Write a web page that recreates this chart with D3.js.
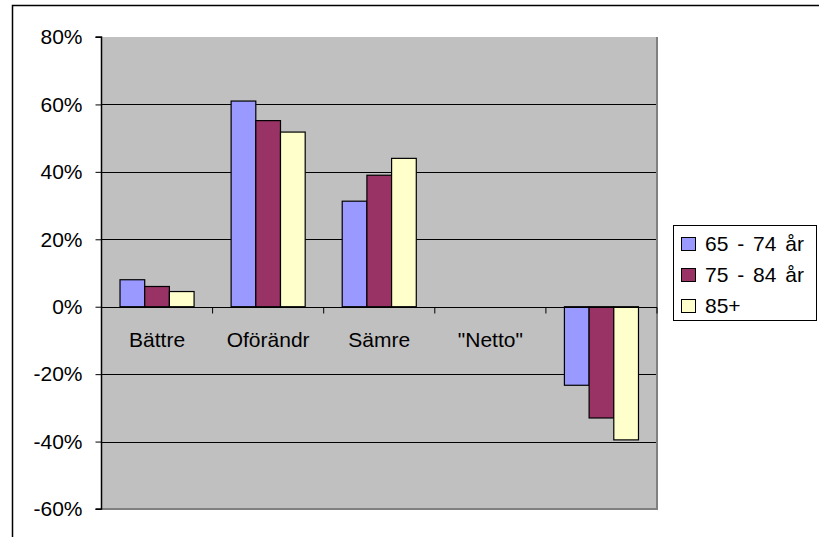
<!DOCTYPE html>
<html>
<head>
<meta charset="utf-8">
<script src="https://cdn.jsdelivr.net/npm/d3@7/dist/d3.min.js"></script>
<style>
  html, body { margin: 0; padding: 0; background: #fff; }
  svg { display: block; }
  text { font-family: "Liberation Sans", Arial, sans-serif; fill: #000; }
</style>
</head>
<body>
<svg id="chart" width="819" height="537"></svg>
<script>
// Categories along the x axis (the last group holds the net values)
const categories = ["Bättre", "Oförändr", "Sämre", "\"Netto\"", ""];
const seriesNames = ["65 - 74 år", "75 - 84 år", "85+"];
const seriesColors = ["#9999FF", "#993366", "#FFFFCC"];

// Shares per age group, in percent (null = no bar)
const age65to74 = [8, 61, 31.3, null, -23.3];
const age75to84 = [6, 55.2, 39, null, -33];
const age85plus = [4.5, 51.8, 44, null, -39.5];

const yTicks = [-60, -40, -20, 0, 20, 40, 60, 80];

const seriesValues = [age65to74, age75to84, age85plus];

const svg = d3.select("#chart");

// Outer chart frame
svg.append("rect")
  .attr("x", 12.5).attr("y", 5.5)
  .attr("width", 830).attr("height", 560)
  .attr("fill", "#fff").attr("stroke", "#000").attr("stroke-width", 1.5);

const plot = { left: 101.5, right: 657, top: 37, bottom: 509 };

const y = d3.scaleLinear().domain([-60, 80]).range([plot.bottom, plot.top]);
const x0 = d3.scaleBand().domain(d3.range(categories.length))
  .range([plot.left, plot.right]).paddingInner(0).paddingOuter(0);
const cw = x0.bandwidth();
const barW = cw / 4.5; // gap width 150%
const x1 = d3.scaleBand().domain(d3.range(seriesNames.length))
  .range([0.75 * barW, cw - 0.75 * barW]).padding(0);

// Plot area background
svg.append("rect")
  .attr("x", plot.left).attr("y", plot.top)
  .attr("width", plot.right - plot.left).attr("height", plot.bottom - plot.top)
  .attr("fill", "#C0C0C0");

// Gridlines
svg.append("g").selectAll("line")
  .data(yTicks.filter(t => t > -60 && t < 80))
  .join("line")
  .attr("x1", plot.left).attr("x2", plot.right)
  .attr("y1", d => Math.round(y(d)) + 0.5).attr("y2", d => Math.round(y(d)) + 0.5)
  .attr("stroke", "#000").attr("stroke-width", 1);

// Plot area border (right and bottom)
svg.append("path")
  .attr("d", `M${plot.right},${plot.top}V${plot.bottom}H${plot.left}`)
  .attr("fill", "none").attr("stroke", "#808080").attr("stroke-width", 2);

// Bars
const groups = svg.append("g").selectAll("g")
  .data(seriesValues)
  .join("g")
  .attr("fill", (d, i) => seriesColors[i]);

groups.each(function(vals, si) {
  d3.select(this).selectAll("rect")
    .data(vals.map((v, ci) => ({ v, ci })).filter(d => d.v !== null))
    .join("rect")
    .attr("x", d => x0(d.ci) + x1(si))
    .attr("width", x1.bandwidth())
    .attr("y", d => y(Math.max(0, d.v)))
    .attr("height", d => Math.abs(y(d.v) - y(0)))
    .attr("stroke", "#000").attr("stroke-width", 1.2);
});

// Y axis
const yAxis = d3.axisLeft(y).tickValues(yTicks)
  .tickFormat(d => d + "%").tickSize(6).tickPadding(13);
const gy = svg.append("g")
  .attr("transform", `translate(${plot.left},0)`)
  .call(yAxis);
gy.select(".domain").attr("stroke", "#000").attr("stroke-width", 1.5)
  .attr("d", `M-6,${plot.top}H0V${plot.bottom}H-6`);
gy.selectAll(".tick line").attr("stroke", "#000");
gy.selectAll(".tick text")
  .style("font-size", "21px")
  .style("font-family", "'Liberation Sans', Arial, sans-serif")
  .attr("fill", "#000");

// Category axis along zero line
const zeroY = Math.round(y(0)) + 0.5;
svg.append("line")
  .attr("x1", plot.left).attr("x2", plot.right)
  .attr("y1", zeroY).attr("y2", zeroY)
  .attr("stroke", "#000").attr("stroke-width", 1.2);
svg.append("g").selectAll("line")
  .data(d3.range(1, categories.length + 1))
  .join("line")
  .attr("x1", d => plot.left + d * cw).attr("x2", d => plot.left + d * cw)
  .attr("y1", zeroY).attr("y2", zeroY + 6)
  .attr("stroke", "#000");
svg.append("g").selectAll("text")
  .data(categories)
  .join("text")
  .attr("x", (d, i) => x0(i) + cw / 2)
  .attr("y", zeroY + 39)
  .attr("text-anchor", "middle")
  .style("font-size", "21px")
  .text(d => d);

// Legend
const legend = svg.append("g");
legend.append("rect")
  .attr("x", 673.5).attr("y", 225.5).attr("width", 143).attr("height", 95)
  .attr("fill", "#fff").attr("stroke", "#000").attr("stroke-width", 1);
const items = legend.selectAll("g.item")
  .data(seriesNames)
  .join("g")
  .attr("class", "item")
  .attr("transform", (d, i) => `translate(681,${244 + i * 31})`);
items.append("rect")
  .attr("x", 0.5).attr("y", -6.5).attr("width", 14).attr("height", 13)
  .attr("fill", (d, i) => seriesColors[i])
  .attr("stroke", "#000").attr("stroke-width", 1);
items.append("text")
  .attr("x", 24).attr("y", 0).attr("dy", "0.35em")
  .style("font-size", "21px")
  .style("word-spacing", "3px")
  .text(d => d);
</script>
</body>
</html>
